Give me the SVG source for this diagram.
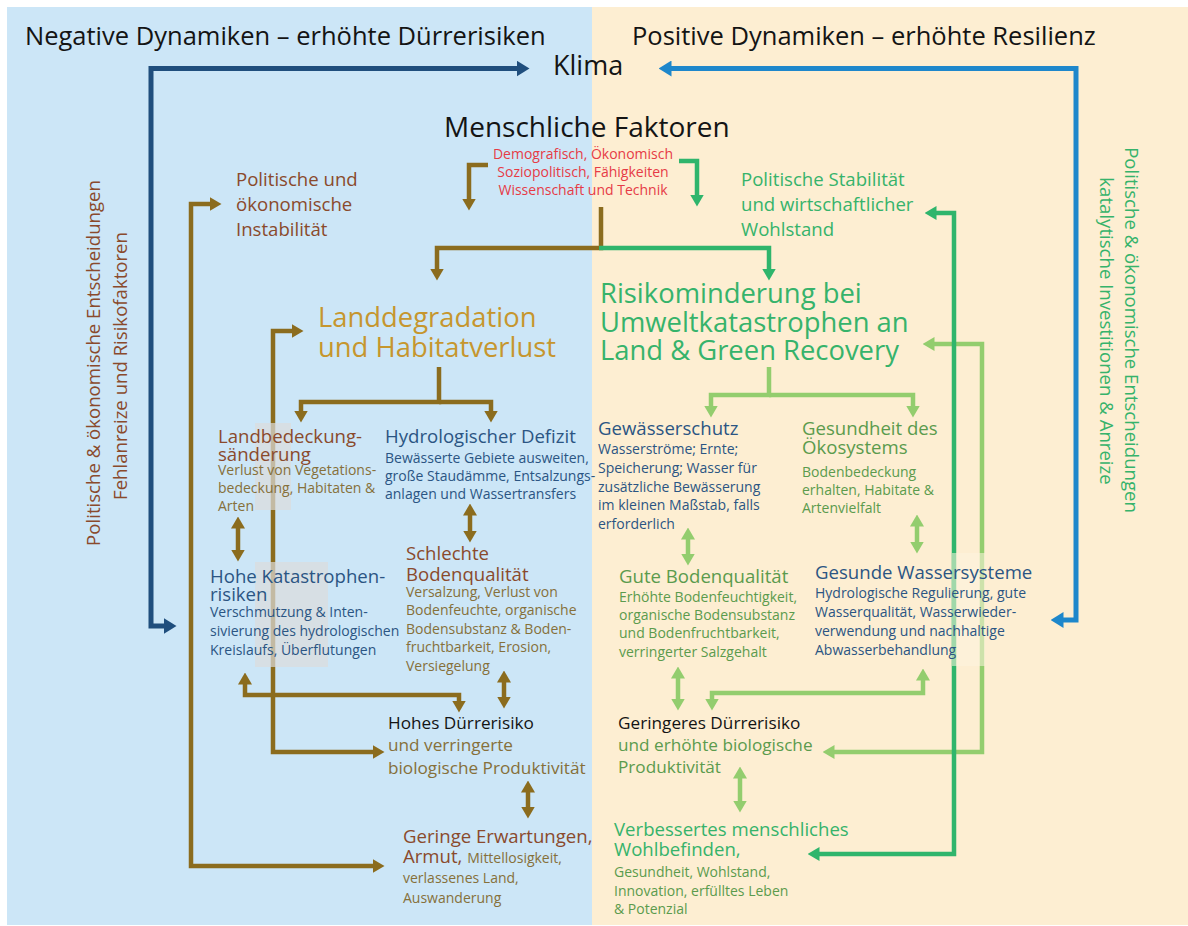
<svg xmlns="http://www.w3.org/2000/svg" width="1188" height="926" viewBox="0 0 1188 926">
  <style>
    text { font-family: "Open Sans", "Noto Sans", "Liberation Sans", sans-serif; }
    .title { font-size: 25.5px; fill: #141414; }
    .big { font-size: 27.4px; }
    .head { font-size: 18.6px; }
    .side { font-size: 18.6px; }
    .mid { font-size: 17.2px; }
    .body { font-size: 14px; }
    .red { font-size: 14px; fill: #e63b46; }
    .black { fill: #141414; }
    .brown { fill: #8a4a2c; }
    .olive { fill: #86703a; }
    .dblue { fill: #2b5583; }
    .green { fill: #36b36b; }
    .mgreen { fill: #5b9b4d; }
    .gold { fill: #c6962e; }
    .ln { fill: none; stroke-width: 4.5; stroke-linejoin: miter; }
    .ln-brown { stroke: #8b6c1e; }
    .ln-green { stroke: #2fb56c; }
    .ln-lgreen { stroke: #93cd6e; }
    .ln-dblue { stroke: #1f4e7d; stroke-width: 5; }
    .ln-blue { stroke: #1e87cb; stroke-width: 5; }
    .veil-grey { fill: #dcdcdc; opacity: 0.7; }
    .veil-cream { fill: #fdf4df; opacity: 0.55; }
  </style>
  <defs>
    <marker id="ah-brown" viewBox="0 0 12 14" refX="0.5" refY="7" markerWidth="12" markerHeight="14" markerUnits="userSpaceOnUse" orient="auto-start-reverse"><path d="M0,0 L12,7 L0,14 z" fill="#8b6c1e"/></marker>
    <marker id="ah-green" viewBox="0 0 12 14" refX="0.5" refY="7" markerWidth="12" markerHeight="14" markerUnits="userSpaceOnUse" orient="auto-start-reverse"><path d="M0,0 L12,7 L0,14 z" fill="#2fb56c"/></marker>
    <marker id="ah-lgreen" viewBox="0 0 12 14" refX="0.5" refY="7" markerWidth="12" markerHeight="14" markerUnits="userSpaceOnUse" orient="auto-start-reverse"><path d="M0,0 L12,7 L0,14 z" fill="#93cd6e"/></marker>
    <marker id="ah-dblue" viewBox="0 0 13 16" refX="0.5" refY="8" markerWidth="13" markerHeight="16" markerUnits="userSpaceOnUse" orient="auto-start-reverse"><path d="M0,0 L13,8 L0,16 z" fill="#1f4e7d"/></marker>
    <marker id="ah-blue" viewBox="0 0 13 16" refX="0.5" refY="8" markerWidth="13" markerHeight="16" markerUnits="userSpaceOnUse" orient="auto-start-reverse"><path d="M0,0 L13,8 L0,16 z" fill="#1e87cb"/></marker>
  </defs>

  <!-- two halves of the panel -->
  <rect x="0" y="0" width="1188" height="926" fill="#ffffff"/>
  <rect x="7" y="7" width="585" height="918" fill="#cce6f7"/>
  <rect x="592" y="7" width="596" height="918" fill="#fdeed2"/>

  <!-- panel headings -->
  <g id="heading-negative"><text class="title" x="25" y="45">Negative Dynamiken – erhöhte Dürrerisiken</text></g>
  <g id="heading-positive"><text class="title" x="632" y="45">Positive Dynamiken – erhöhte Resilienz</text></g>

  <!-- side labels of the two feedback loops -->
  <g id="label-left-loop">
    <text class="side brown" text-anchor="middle" transform="translate(100,363) rotate(-90)">Politische &amp; ökonomische Entscheidungen</text>
    <text class="side brown" text-anchor="middle" transform="translate(127,366) rotate(-90)">Fehlanreize und Risikofaktoren</text>
  </g>
  <g id="label-right-loop">
    <text class="side green" text-anchor="middle" transform="translate(1125,330) rotate(90)">Politische &amp; ökonomische Entscheidungen</text>
    <text class="side green" text-anchor="middle" transform="translate(1100,331) rotate(90)">katalytische Investitionen &amp; Anreize</text>
  </g>

  <!-- connectors -->
  <g id="connectors">
    <path class="ln ln-dblue" d="M517 68.5 H151 V626 H164" marker-start="url(#ah-dblue)" marker-end="url(#ah-dblue)"/>
    <path class="ln ln-blue" d="M671 68.5 H1076 V620 H1063" marker-start="url(#ah-blue)" marker-end="url(#ah-blue)"/>

    <path class="ln ln-brown" d="M488 165 H469 V199" marker-end="url(#ah-brown)"/>
    <path class="ln ln-green" d="M679 161 H697 V195" marker-end="url(#ah-green)"/>

    <path class="ln ln-brown" d="M601 207 V248 H437 V269" marker-end="url(#ah-brown)"/>
    <path class="ln ln-green" d="M599 248 H769 V269" marker-end="url(#ah-green)"/>

    <path class="ln ln-brown" d="M439 367 V402 H301 V411" marker-end="url(#ah-brown)"/>
    <path class="ln ln-brown" d="M439 402 H491 V411" marker-end="url(#ah-brown)"/>
    <path class="ln ln-lgreen" d="M769 367 V395 H711 V406" marker-end="url(#ah-lgreen)"/>
    <path class="ln ln-lgreen" d="M769 395 H913 V406" marker-end="url(#ah-lgreen)"/>

    <path class="ln ln-brown" d="M210 204 H191 V866 H373" marker-start="url(#ah-brown)" marker-end="url(#ah-brown)"/>
    <path class="ln ln-brown" d="M292 331 H273 V752 H373" marker-start="url(#ah-brown)" marker-end="url(#ah-brown)"/>
    <path class="ln ln-brown" d="M245 684 V695 H459 V701" marker-start="url(#ah-brown)" marker-end="url(#ah-brown)"/>

    <path class="ln ln-brown" d="M238 528 V550" marker-start="url(#ah-brown)" marker-end="url(#ah-brown)"/>
    <path class="ln ln-brown" d="M470 515 V531" marker-start="url(#ah-brown)" marker-end="url(#ah-brown)"/>
    <path class="ln ln-brown" d="M504 682 V697" marker-start="url(#ah-brown)" marker-end="url(#ah-brown)"/>
    <path class="ln ln-brown" d="M528 792 V807" marker-start="url(#ah-brown)" marker-end="url(#ah-brown)"/>

    <path class="ln ln-lgreen" d="M688 539 V554" marker-start="url(#ah-lgreen)" marker-end="url(#ah-lgreen)"/>
    <path class="ln ln-lgreen" d="M917 526 V542" marker-start="url(#ah-lgreen)" marker-end="url(#ah-lgreen)"/>
    <path class="ln ln-lgreen" d="M678 678 V699" marker-start="url(#ah-lgreen)" marker-end="url(#ah-lgreen)"/>
    <path class="ln ln-lgreen" d="M740 778 V801" marker-start="url(#ah-lgreen)" marker-end="url(#ah-lgreen)"/>
    <path class="ln ln-lgreen" d="M923 680 V693 H712 V699" marker-start="url(#ah-lgreen)" marker-end="url(#ah-lgreen)"/>

    <path class="ln ln-lgreen" d="M934 344 H982 V752 H834" marker-start="url(#ah-lgreen)" marker-end="url(#ah-lgreen)"/>
    <path class="ln ln-green" d="M936 213 H954 V854 H819" marker-start="url(#ah-green)" marker-end="url(#ah-green)"/>
  </g>

  <!-- drivers at the top -->
  <g id="node-klima"><text class="black" x="553" y="75" font-size="27">Klima</text></g>
  <g id="node-menschliche-faktoren">
    <text class="black" x="444" y="137" font-size="28">Menschliche Faktoren</text>
    <text class="red" text-anchor="middle" x="583"><tspan x="583" y="159">Demografisch, Ökonomisch</tspan><tspan x="583" y="177">Soziopolitisch, Fähigkeiten</tspan><tspan x="583" y="195">Wissenschaft und Technik</tspan></text>
  </g>

  <!-- negative side -->
  <g id="node-instabilitaet">
    <text class="head brown"><tspan x="236" y="186">Politische und</tspan><tspan x="236" y="211">ökonomische</tspan><tspan x="236" y="236">Instabilität</tspan></text>
  </g>
  <g id="node-landdegradation">
    <text class="big gold"><tspan x="318" y="327">Landdegradation</tspan><tspan x="318" y="357">und Habitatverlust</tspan></text>
  </g>
  <g id="node-landbedeckung">
    <rect class="veil-grey" x="255" y="423" width="36" height="87"/>
    <text class="head brown"><tspan x="218" y="443">Landbedeckung-</tspan><tspan x="218" y="461">sänderung</tspan></text>
    <text class="body olive"><tspan x="218" y="475">Verlust von Vegetations-</tspan><tspan x="218" y="493">bedeckung, Habitaten &amp;</tspan><tspan x="218" y="511">Arten</tspan></text>
  </g>
  <g id="node-hydrologisches-defizit">
    <text class="head dblue" x="385" y="443">Hydrologischer Defizit</text>
    <text class="body dblue"><tspan x="385" y="463">Bewässerte Gebiete ausweiten,</tspan><tspan x="385" y="481">große Staudämme, Entsalzungs-</tspan><tspan x="385" y="499">anlagen und Wassertransfers</tspan></text>
  </g>
  <g id="node-katastrophenrisiken">
    <rect class="veil-grey" x="255" y="562" width="73" height="105"/>
    <text class="head dblue"><tspan x="210" y="583">Hohe Katastrophen-</tspan><tspan x="210" y="601">risiken</tspan></text>
    <text class="body dblue"><tspan x="210" y="617">Verschmutzung &amp; Inten-</tspan><tspan x="210" y="636">sivierung des hydrologischen</tspan><tspan x="210" y="655">Kreislaufs, Überflutungen</tspan></text>
  </g>
  <g id="node-schlechte-bodenqualitaet">
    <text class="head brown"><tspan x="406" y="560">Schlechte</tspan><tspan x="406" y="581">Bodenqualität</tspan></text>
    <text class="body olive"><tspan x="406" y="597">Versalzung, Verlust von</tspan><tspan x="406" y="615">Bodenfeuchte, organische</tspan><tspan x="406" y="634">Bodensubstanz &amp; Boden-</tspan><tspan x="406" y="652">fruchtbarkeit, Erosion,</tspan><tspan x="406" y="671">Versiegelung</tspan></text>
  </g>
  <g id="node-hohes-duerrerisiko">
    <text class="mid black" x="388" y="729">Hohes Dürrerisiko</text>
    <text class="mid olive"><tspan x="388" y="751">und verringerte</tspan><tspan x="388" y="774">biologische Produktivität</tspan></text>
  </g>
  <g id="node-armut">
    <text class="head brown"><tspan x="403" y="843">Geringe Erwartungen,</tspan><tspan x="403" y="863">Armut, <tspan class="body olive">Mittellosigkeit,</tspan></tspan></text>
    <text class="body olive"><tspan x="403" y="883">verlassenes Land,</tspan><tspan x="403" y="903">Auswanderung</tspan></text>
  </g>

  <!-- positive side -->
  <g id="node-stabilitaet">
    <text class="head green"><tspan x="741" y="186">Politische Stabilität</tspan><tspan x="741" y="211">und wirtschaftlicher</tspan><tspan x="741" y="236">Wohlstand</tspan></text>
  </g>
  <g id="node-risikominderung">
    <text class="big green"><tspan x="600" y="303">Risikominderung bei</tspan><tspan x="600" y="332">Umweltkatastrophen an</tspan><tspan x="600" y="360">Land &amp; Green Recovery</tspan></text>
  </g>
  <g id="node-gewaesserschutz">
    <text class="head dblue" x="598" y="435">Gewässerschutz</text>
    <text class="body dblue"><tspan x="598" y="454">Wasserströme; Ernte;</tspan><tspan x="598" y="473">Speicherung; Wasser für</tspan><tspan x="598" y="492">zusätzliche Bewässerung</tspan><tspan x="598" y="510">im kleinen Maßstab, falls</tspan><tspan x="598" y="529">erforderlich</tspan></text>
  </g>
  <g id="node-oekosystem">
    <text class="head mgreen"><tspan x="802" y="435">Gesundheit des</tspan><tspan x="802" y="454">Ökosystems</tspan></text>
    <text class="body mgreen"><tspan x="802" y="477">Bodenbedeckung</tspan><tspan x="802" y="495">erhalten, Habitate &amp;</tspan><tspan x="802" y="513">Artenvielfalt</tspan></text>
  </g>
  <g id="node-gute-bodenqualitaet">
    <text class="head mgreen" x="619" y="583">Gute Bodenqualität</text>
    <text class="body mgreen"><tspan x="619" y="602">Erhöhte Bodenfeuchtigkeit,</tspan><tspan x="619" y="620">organische Bodensubstanz</tspan><tspan x="619" y="638">und Bodenfruchtbarkeit,</tspan><tspan x="619" y="657">verringerter Salzgehalt</tspan></text>
  </g>
  <g id="node-wassersysteme">
    <rect class="veil-cream" x="952" y="553" width="33" height="113"/>
    <text class="head dblue" x="815" y="579">Gesunde Wassersysteme</text>
    <text class="body dblue"><tspan x="815" y="598">Hydrologische Regulierung, gute</tspan><tspan x="815" y="617">Wasserqualität, Wasserwieder-</tspan><tspan x="815" y="636">verwendung und nachhaltige</tspan><tspan x="815" y="655">Abwasserbehandlung</tspan></text>
  </g>
  <g id="node-geringeres-duerrerisiko">
    <text class="mid black" x="618" y="729">Geringeres Dürrerisiko</text>
    <text class="mid mgreen"><tspan x="618" y="751">und erhöhte biologische</tspan><tspan x="618" y="773">Produktivität</tspan></text>
  </g>
  <g id="node-wohlbefinden">
    <text class="head green"><tspan x="614" y="836">Verbessertes menschliches</tspan><tspan x="614" y="856">Wohlbefinden,</tspan></text>
    <text class="body mgreen"><tspan x="614" y="877">Gesundheit, Wohlstand,</tspan><tspan x="614" y="896">Innovation, erfülltes Leben</tspan><tspan x="614" y="914">&amp; Potenzial</tspan></text>
  </g>
</svg>
